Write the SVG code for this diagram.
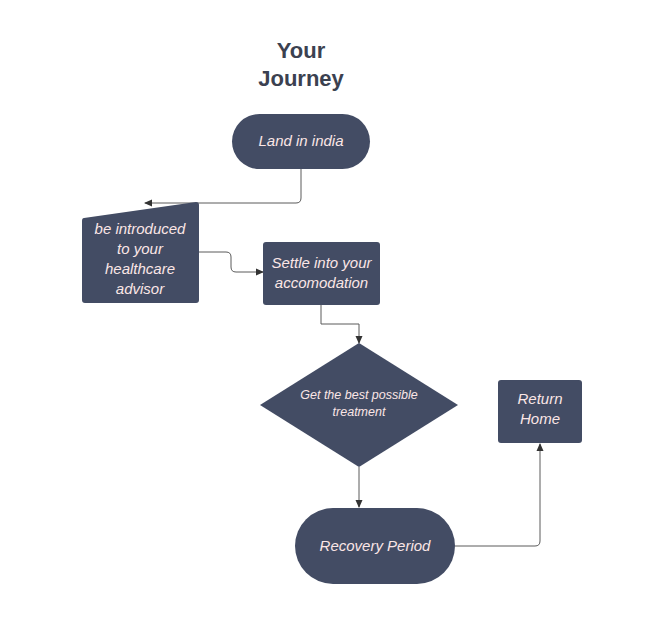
<svg xmlns="http://www.w3.org/2000/svg" width="659" height="627" viewBox="0 0 659 627">
<style>
.n{fill:#434c64}
.t{font-family:"Liberation Sans",Arial,sans-serif;font-style:italic;fill:#fbe6e6;text-anchor:middle}
.c{fill:none;stroke:#5a5a5a;stroke-width:1}
</style>
<defs><marker id="a" markerWidth="8" markerHeight="8" refX="7" refY="4" orient="auto" markerUnits="userSpaceOnUse"><path d="M0,0.5L8,4L0,7.5Z" fill="#333"/></marker></defs>
<rect width="659" height="627" fill="#fff"/>
<text x="301" y="58" font-family="Liberation Sans,Arial,sans-serif" font-weight="bold" font-size="22" fill="#3b4150" text-anchor="middle">Your</text>
<text x="301" y="86" font-family="Liberation Sans,Arial,sans-serif" font-weight="bold" font-size="22" fill="#3b4150" text-anchor="middle">Journey</text>
<g id="connectors">
<path class="c" d="M301,169V198Q301,203 296,203H145" marker-end="url(#a)"/>
<path class="c" d="M199,252H226Q231,252 231,257V267Q231,272 236,272H263" marker-end="url(#a)"/>
<path class="c" d="M321,305V324H359V343" marker-end="url(#a)"/>
<path class="c" d="M359,467V507" marker-end="url(#a)"/>
<path class="c" d="M455,546H535Q540,546 540,541V444" marker-end="url(#a)"/>
</g>
<g id="land"><rect class="n" x="232" y="114" width="138" height="55" rx="27.5"/><text class="t" x="301" y="146" font-size="15">Land in india</text></g>
<g id="advisor"><path class="n" d="M84,218L196,202Q199,202 199,205V300Q199,303 196,303H85Q82,303 82,300V221Q82,218 84,218Z"/>
<text class="t" font-size="15"><tspan x="140" y="234">be introduced</tspan><tspan x="140" y="254">to your</tspan><tspan x="140" y="274">healthcare</tspan><tspan x="140" y="294">advisor</tspan></text></g>
<g id="settle"><rect class="n" x="263" y="242" width="117" height="63" rx="3"/><text class="t" font-size="15"><tspan x="321.5" y="268">Settle into your</tspan><tspan x="321.5" y="288">accomodation</tspan></text></g>
<g id="treatment"><path class="n" d="M359,343L458,405L359,467L260,405Z"/><text class="t" font-size="12.5"><tspan x="359" y="399">Get the best possible</tspan><tspan x="359" y="416">treatment</tspan></text></g>
<g id="home"><rect class="n" x="498" y="380" width="84" height="63" rx="3"/><text class="t" font-size="15"><tspan x="540" y="404">Return</tspan><tspan x="540" y="424">Home</tspan></text></g>
<g id="recovery"><rect class="n" x="295" y="508" width="160" height="76" rx="38"/><text class="t" x="375" y="551" font-size="15">Recovery Period</text></g>
</svg>
